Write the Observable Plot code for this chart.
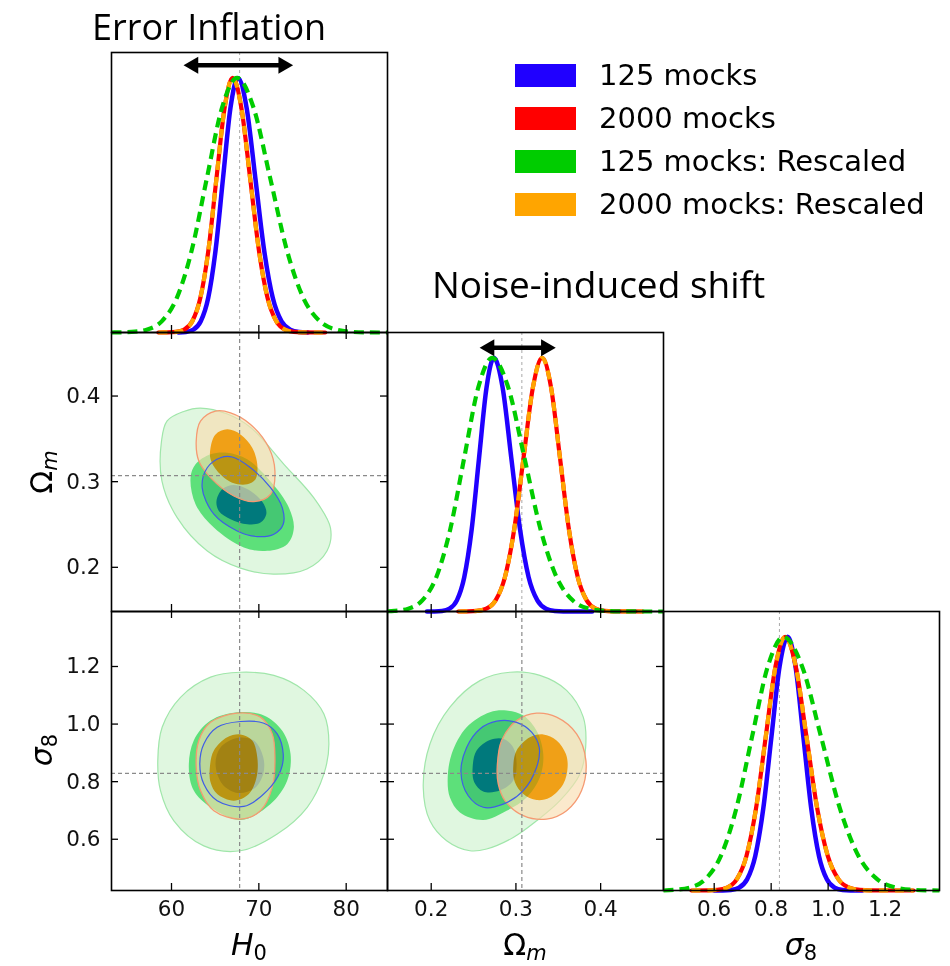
<!DOCTYPE html>
<html>
<head>
<meta charset="utf-8">
<script src="https://cdn.jsdelivr.net/npm/d3@7"></script>
<script src="https://cdn.jsdelivr.net/npm/@observablehq/plot@0.6"></script>
<style>
html,body{margin:0;padding:0;background:#fff;}
#wrap{position:relative;width:950px;height:966px;overflow:hidden;background:#fff;}
#wrap svg{position:absolute;}
</style>
</head>
<body>
<div id="wrap"></div>
<script>
// ---------------- data ----------------
const titleLeft = "Error Inflation";
const titleRight = "Noise-induced shift";
const legendLabels = ["125 mocks", "2000 mocks", "125 mocks: Rescaled", "2000 mocks: Rescaled"];

const h0Ticks = [60, 70, 80];
const omTicks = [0.2, 0.3, 0.4];
const s8Ticks = [0.6, 0.8, 1.0, 1.2];
const h0Domain = [53.13, 84.73];
const omDomain = [0.1484, 0.4742];
const s8Domain = [0.422, 1.391];
const densDomain = [0, 1.1];
const truthH0 = [67.8];
const truthOm = [0.307];
const truthS8 = [0.829];
const arrowH0 = [61.4, 73.9, 1.05];
const arrowOm = [0.2574, 0.3468, 1.04];

// 1D marginals [value, normalised density]
const h0Blue = [[60.8,0.0003],[61.65,0.0022],[62.5,0.0111],[63.35,0.0439],[64.2,0.1353],[65.05,0.3247],[65.9,0.6065],[66.75,0.8825],[67.6,1],[68.6,0.8825],[69.6,0.6065],[70.6,0.3247],[71.6,0.1353],[72.6,0.0439],[73.6,0.0111],[74.6,0.0022],[75.6,0.0003]];
const h0Red = [[58.5,0],[59.6,0.0003],[60.53,0.0022],[61.45,0.0111],[62.38,0.0439],[63.3,0.1353],[64.23,0.3247],[65.15,0.6065],[66.08,0.8825],[67.0,1],[68,0.8825],[69,0.6065],[70,0.3247],[71,0.1353],[72,0.0439],[73,0.0111],[74,0.0022],[75,0.0003],[77.6,0]];
const h0Orange = [[58.5,0],[59.6,0.0003],[60.53,0.0022],[61.45,0.0111],[62.38,0.0439],[63.3,0.1353],[64.23,0.3247],[65.15,0.6065],[66.08,0.8825],[67.0,1],[68,0.8825],[69,0.6065],[70,0.3247],[71,0.1353],[72,0.0439],[73,0.0111],[74,0.0022],[75,0.0003],[77.6,0]];
const h0Green = [[53.13,0],[53.7,0.0003],[55.43,0.0022],[57.15,0.0111],[58.88,0.0439],[60.6,0.1353],[62.33,0.3247],[64.05,0.6065],[65.78,0.8825],[67.5,1],[69.4,0.8825],[71.3,0.6065],[73.2,0.3247],[75.1,0.1353],[77.0,0.0439],[78.9,0.0111],[80.8,0.0022],[82.7,0.0003],[84.73,0]];

const omBlue = [[0.195,0],[0.204,0.0003],[0.2128,0.0022],[0.2215,0.0111],[0.2303,0.0439],[0.239,0.1353],[0.2478,0.3247],[0.2565,0.6065],[0.2653,0.8825],[0.274,1],[0.2843,0.8825],[0.2945,0.6065],[0.3048,0.3247],[0.315,0.1353],[0.3253,0.0439],[0.3355,0.0111],[0.3458,0.0022],[0.356,0.0003],[0.39,0]];
const omRed = [[0.232,0],[0.243,0.0003],[0.254,0.0022],[0.265,0.0111],[0.276,0.0439],[0.287,0.1353],[0.298,0.3247],[0.309,0.6065],[0.32,0.8825],[0.331,1],[0.3415,0.8825],[0.352,0.6065],[0.3625,0.3247],[0.373,0.1353],[0.3835,0.0439],[0.394,0.0111],[0.4045,0.0022],[0.415,0.0003],[0.45,0]];
const omOrange = [[0.232,0],[0.243,0.0003],[0.254,0.0022],[0.265,0.0111],[0.276,0.0439],[0.287,0.1353],[0.298,0.3247],[0.309,0.6065],[0.32,0.8825],[0.331,1],[0.3415,0.8825],[0.352,0.6065],[0.3625,0.3247],[0.373,0.1353],[0.3835,0.0439],[0.394,0.0111],[0.4045,0.0022],[0.415,0.0003],[0.45,0]];
const omGreen = [[0.1484,0.0009],[0.1565,0.0022],[0.173,0.0111],[0.1895,0.0439],[0.206,0.1353],[0.2225,0.3247],[0.239,0.6065],[0.2555,0.8825],[0.272,1],[0.291,0.8825],[0.31,0.6065],[0.329,0.3247],[0.348,0.1353],[0.367,0.0439],[0.386,0.0111],[0.405,0.0022],[0.424,0.0003],[0.4742,0]];

const s8Blue = [[0.6,0],[0.63,0.0003],[0.6585,0.0022],[0.687,0.0111],[0.7155,0.0439],[0.744,0.1353],[0.7725,0.3247],[0.801,0.6065],[0.8295,0.8825],[0.858,1],[0.8855,0.8825],[0.913,0.6065],[0.9405,0.3247],[0.968,0.1353],[0.9955,0.0439],[1.023,0.0111],[1.0505,0.0022],[1.078,0.0003],[1.12,0]];
const s8Red = [[0.52,0],[0.577,0.0003],[0.611,0.0022],[0.645,0.0111],[0.679,0.0439],[0.713,0.1353],[0.747,0.3247],[0.781,0.6065],[0.815,0.8825],[0.849,1],[0.8865,0.8825],[0.924,0.6065],[0.9615,0.3247],[0.999,0.1353],[1.0365,0.0439],[1.074,0.0111],[1.1115,0.0022],[1.149,0.0003],[1.3,0]];
const s8Orange = [[0.52,0],[0.577,0.0003],[0.611,0.0022],[0.645,0.0111],[0.679,0.0439],[0.713,0.1353],[0.747,0.3247],[0.781,0.6065],[0.815,0.8825],[0.849,1],[0.8865,0.8825],[0.924,0.6065],[0.9615,0.3247],[0.999,0.1353],[1.0365,0.0439],[1.074,0.0111],[1.1115,0.0022],[1.149,0.0003],[1.3,0]];
const s8Green = [[0.422,0],[0.458,0.0022],[0.513,0.0111],[0.568,0.0439],[0.623,0.1353],[0.678,0.3247],[0.733,0.6065],[0.788,0.8825],[0.843,1],[0.909,0.8825],[0.975,0.6065],[1.041,0.3247],[1.107,0.1353],[1.173,0.0439],[1.239,0.0111],[1.305,0.0022],[1.371,0.0003],[1.391,0]];

// 2D contours: H0 vs Omega_m
const g2_h0om = [[58.85,0.347],[59.5,0.371],[61.4,0.382],[63.3,0.386],[66.4,0.379],[69.1,0.363],[72.9,0.320],[76.3,0.281],[78.2,0.246],[77.8,0.219],[75.5,0.198],[71.7,0.192],[67.9,0.199],[64.1,0.219],[60.65,0.258],[58.9,0.301]];
const g1_h0om = [[62.18,0.3047],[62.75,0.3203],[64.47,0.3319],[66.38,0.3338],[68.67,0.3261],[70.96,0.3047],[73.25,0.2737],[74.01,0.2464],[73.25,0.2270],[70.96,0.2192],[68.28,0.2231],[64.85,0.2464],[62.75,0.2737]];
const b2_h0om = [[63.51,0.2930],[64.09,0.3163],[65.61,0.3280],[66.95,0.3288],[69.05,0.3163],[71.34,0.2930],[72.68,0.2697],[72.79,0.2503],[71.72,0.2387],[69.82,0.2359],[67.52,0.2425],[64.85,0.2620]];
const b1_h0om = [[65.15,0.2775],[65.81,0.2911],[67.14,0.2962],[69.05,0.2892],[70.58,0.2737],[70.85,0.2620],[70.19,0.2522],[68.67,0.2503],[66.76,0.2562],[65.42,0.2659]];
const o2_h0om = [[62.83,0.3474],[63.32,0.3707],[65.04,0.3824],[66.76,0.3804],[69.05,0.3669],[71.15,0.3396],[71.84,0.3125],[71.34,0.2853],[69.43,0.2767],[67.14,0.2833],[64.47,0.3047],[63.13,0.3241]];
const o1_h0om = [[64.47,0.3396],[65.04,0.3552],[66.38,0.3611],[67.90,0.3552],[69.24,0.3396],[69.82,0.3203],[69.62,0.3028],[68.67,0.2970],[66.95,0.2988],[65.23,0.3125],[64.47,0.3261]];

// H0 vs sigma_8
const g2_h0s8 = [[58.43,0.873],[58.93,0.989],[61.03,1.093],[64.47,1.163],[67.90,1.180],[71.72,1.169],[75.16,1.117],[77.45,1.035],[78.02,0.931],[77.45,0.827],[75.54,0.711],[72.10,0.618],[67.90,0.560],[63.70,0.577],[60.27,0.664],[58.74,0.769]];
const g1_h0s8 = [[61.98,0.850],[62.55,0.943],[64.47,1.012],[67.52,1.041],[70.58,1.030],[72.68,0.977],[73.63,0.896],[73.25,0.804],[71.34,0.722],[67.90,0.667],[64.47,0.711],[62.55,0.769]];
const b2_h0s8 = [[63.24,0.862],[63.70,0.931],[65.23,0.989],[67.90,1.009],[70.58,1.003],[72.10,0.966],[72.79,0.896],[72.49,0.838],[70.96,0.769],[68.28,0.714],[65.23,0.734],[63.70,0.792]];
const b1_h0s8 = [[65.04,0.862],[65.61,0.919],[67.52,0.952],[69.43,0.943],[70.50,0.885],[70.50,0.827],[69.43,0.775],[67.52,0.761],[65.81,0.792]];
const o2_h0s8 = [[62.83,0.850],[63.13,0.943],[64.47,1.006],[67.52,1.038],[70.19,1.024],[71.53,0.966],[71.84,0.885],[71.53,0.780],[70.19,0.699],[67.90,0.670],[64.85,0.699],[63.32,0.769]];
const o1_h0s8 = [[64.39,0.850],[64.85,0.908],[66.38,0.954],[67.90,0.964],[69.24,0.943],[69.82,0.885],[69.74,0.815],[68.86,0.757],[67.14,0.734],[65.23,0.757],[64.47,0.798]];

// Omega_m vs sigma_8
const g2_oms8 = [[0.1906,0.780],[0.1985,0.931],[0.2221,1.059],[0.2575,1.151],[0.2929,1.180],[0.3283,1.169],[0.3598,1.117],[0.3795,1.024],[0.3823,0.919],[0.3756,0.827],[0.3519,0.734],[0.3244,0.664],[0.2968,0.606],[0.2654,0.566],[0.2457,0.560],[0.2182,0.595],[0.1985,0.664]];
const g1_oms8 = [[0.2194,0.804],[0.2241,0.896],[0.2418,0.989],[0.2693,1.041],[0.2890,1.047],[0.3087,1.030],[0.3244,0.977],[0.3323,0.896],[0.3283,0.815],[0.3126,0.745],[0.2890,0.699],[0.2614,0.667],[0.2339,0.693],[0.2221,0.745]];
const b2_oms8 = [[0.2351,0.832],[0.2418,0.919],[0.2575,0.983],[0.2772,1.010],[0.3008,1.006],[0.3185,0.972],[0.3275,0.919],[0.3244,0.850],[0.3087,0.769],[0.2850,0.722],[0.2614,0.711],[0.2437,0.751]];
const b1_oms8 = [[0.2489,0.850],[0.2536,0.908],[0.2693,0.945],[0.2850,0.949],[0.2968,0.919],[0.3008,0.862],[0.2968,0.804],[0.2811,0.769],[0.2614,0.766],[0.2508,0.798]];
const o2_oms8 = [[0.2779,0.850],[0.2831,0.943],[0.3008,1.012],[0.3244,1.038],[0.3480,1.024],[0.3716,0.966],[0.3826,0.873],[0.3775,0.769],[0.3598,0.699],[0.3362,0.670],[0.3087,0.682],[0.2870,0.734],[0.2791,0.792]];
const o1_oms8 = [[0.2968,0.850],[0.3008,0.908],[0.3165,0.954],[0.3323,0.964],[0.3480,0.943],[0.3590,0.896],[0.3610,0.850],[0.3559,0.792],[0.3401,0.745],[0.3244,0.736],[0.3087,0.757],[0.2988,0.798]];

// ---------------- drawing ----------------
const BLUE = "#2000ff", RED = "#ff0000", GREEN = "#00cc00", ORANGE = "#ffa500";
const CORE = "#ffb21e";
const legendColors = [BLUE, RED, GREEN, ORANGE];
const wrap = document.getElementById("wrap");
const colLeft = [111, 387, 663];
const rowTop = [52, 332, 611];
const W = 276;
const X = d => d[0], Y = d => d[1];
const fmt1 = d3.format(".1f");

// overlay for titles, legend, axis labels
const ov = d3.select(wrap).append("svg").attr("width", 950).attr("height", 966)
  .style("left", "0px").style("top", "0px");
ov.append("text").attr("x", 92).attr("y", 40).attr("font-family", "Open Sans")
  .attr("font-size", 36).attr("fill", "#000").text(titleLeft);
ov.append("text").attr("x", 432).attr("y", 298).attr("font-family", "Open Sans")
  .attr("font-size", 37).attr("fill", "#000").text(titleRight);
legendLabels.forEach((lab, i) => {
  ov.append("rect").attr("x", 515).attr("y", 64 + i * 43).attr("width", 61).attr("height", 23)
    .attr("fill", legendColors[i]);
  ov.append("text").attr("x", 599).attr("y", 85 + i * 43).attr("font-family", "DejaVu Sans")
    .attr("font-size", 29).attr("fill", "#000").text(lab);
});
function mathLabel(g, main, mainItalic, sub, subItalic) {
  const t = g.append("text").attr("text-anchor", "middle").attr("font-family", "DejaVu Sans")
    .attr("font-size", 30).attr("fill", "#000");
  t.append("tspan").attr("font-style", mainItalic ? "italic" : "normal").text(main);
  t.append("tspan").attr("font-style", subItalic ? "italic" : "normal").attr("font-size", 21)
    .attr("dy", 5).text(sub);
  return t;
}
mathLabel(ov.append("g").attr("transform", "translate(249,955)"), "H", true, "0", false);
mathLabel(ov.append("g").attr("transform", "translate(525,955)"), "Ω", false, "m", true);
mathLabel(ov.append("g").attr("transform", "translate(801,955)"), "σ", true, "8", false);
mathLabel(ov.append("g").attr("transform", "translate(52,472) rotate(-90)"), "Ω", false, "m", true);
mathLabel(ov.append("g").attr("transform", "translate(52,750) rotate(-90)"), "σ", true, "8", false);

function tickMarks(h, {bottom, top, left, right}) {
  const m = [];
  const s = {stroke: "black", strokeWidth: 1.3};
  if (bottom) m.push(Plot.tickX(bottom, {x: d => d, insetTop: h - 7, ...s}));
  if (top) m.push(Plot.tickX(top, {x: d => d, insetBottom: h - 7, ...s}));
  if (left) m.push(Plot.tickY(left, {y: d => d, insetRight: W - 7, ...s}));
  if (right) m.push(Plot.tickY(right, {y: d => d, insetLeft: W - 7, ...s}));
  return m;
}

function curveMarks(blue, red, orange, green) {
  const c = {x: X, y: Y, curve: "monotone-x"};
  return [
    Plot.line(blue, {...c, stroke: BLUE, strokeWidth: 4.5}),
    Plot.line(red, {...c, stroke: RED, strokeWidth: 4.2}),
    Plot.line(orange, {...c, stroke: ORANGE, strokeWidth: 4.2, strokeDasharray: "9,7", strokeLinecap: "butt"}),
    Plot.line(green, {...c, stroke: GREEN, strokeWidth: 4.2, strokeDasharray: "10,6", strokeLinecap: "butt"})
  ];
}

function contourMarks(g2, g1, b2, b1, o2, o1) {
  const c = {x: X, y: Y, curve: "catmull-rom-closed"};
  return [
    Plot.line(g2, {...c, fill: "#00c000", fillOpacity: 0.12, stroke: "none"}),
    Plot.line(g2, {...c, stroke: "#a0e6aa", strokeWidth: 1.2}),
    Plot.line(g1, {...c, fill: "#5de07a", stroke: "none"}),
    Plot.line(b2, {...c, fill: "#008060", fillOpacity: 0.25, stroke: "none"}),
    Plot.line(b1, {...c, fill: "#00797c", stroke: "none"}),
    Plot.line(o2, {...c, fill: "#f9ddb1", fillOpacity: 0.65, stroke: "none"}),
    Plot.line(o1, {...c, fill: CORE, stroke: "none"}),
    Plot.line(o2, {...c, stroke: "#f59a72", strokeWidth: 1.3}),
    Plot.line(b2, {...c, stroke: "#3f5de6", strokeWidth: 1.2})
  ];
}

function arrowMarks(a) {
  return [
    Plot.arrow([a], {x1: d => d[0], x2: d => d[1], y1: d => d[2], y2: d => d[2],
      headLength: 0, insetStart: 8, insetEnd: 8, stroke: "black", strokeWidth: 4.5}),
    Plot.dot([a], {x: d => d[1], y: d => d[2], symbol: "triangle", r: 6.3, rotate: 90, dx: -9.6, fill: "black", stroke: "none"}),
    Plot.dot([a], {x: d => d[0], y: d => d[2], symbol: "triangle", r: 6.3, rotate: -90, dx: 9.6, fill: "black", stroke: "none"})
  ];
}

const refStyle2D = {stroke: "#8a8a8a", strokeWidth: 1.2, strokeDasharray: "4,3"};
const refStyle1D = {stroke: "#a8a8a8", strokeWidth: 1, strokeDasharray: "3,3"};

function mkPlot(col, row, xDomain, yDomain, marks) {
  const h = row === 0 ? 280 : 279;
  const svg = Plot.plot({
    width: W, height: h, margin: 0,
    x: {domain: xDomain, axis: null},
    y: {domain: yDomain, axis: null},
    style: {fontFamily: "DejaVu Sans", fontSize: "21.5px", color: "#111", background: "transparent", overflow: "visible"},
    marks: [...marks, Plot.frame({stroke: "black", strokeWidth: 1.6})]
  });
  svg.style.left = colLeft[col] + "px";
  svg.style.top = rowTop[row] + "px";
  svg.querySelectorAll(`g[fill="${CORE}"]`).forEach(g => g.style.mixBlendMode = "multiply");
  wrap.appendChild(svg);
}

// (1,1) H0 marginal
mkPlot(0, 0, h0Domain, densDomain, [
  Plot.ruleX(truthH0, refStyle1D),
  ...curveMarks(h0Blue, h0Red, h0Orange, h0Green),
  ...arrowMarks(arrowH0),
  ...tickMarks(280, {bottom: h0Ticks})
]);
// (2,1) H0 vs Om
mkPlot(0, 1, h0Domain, omDomain, [
  ...contourMarks(g2_h0om, g1_h0om, b2_h0om, b1_h0om, o2_h0om, o1_h0om),
  Plot.ruleX(truthH0, refStyle2D), Plot.ruleY(truthOm, refStyle2D),
  ...tickMarks(279, {bottom: h0Ticks, top: h0Ticks, left: omTicks, right: omTicks}),
  Plot.axisY(omTicks, {anchor: "left", tickSize: 0, tickPadding: 11, tickFormat: fmt1, label: null})
]);
// (2,2) Om marginal
mkPlot(1, 1, omDomain, densDomain, [
  Plot.ruleX(truthOm, refStyle1D),
  ...curveMarks(omBlue, omRed, omOrange, omGreen),
  ...arrowMarks(arrowOm),
  ...tickMarks(279, {bottom: omTicks})
]);
// (3,1) H0 vs s8
mkPlot(0, 2, h0Domain, s8Domain, [
  ...contourMarks(g2_h0s8, g1_h0s8, b2_h0s8, b1_h0s8, o2_h0s8, o1_h0s8),
  Plot.ruleX(truthH0, refStyle2D), Plot.ruleY(truthS8, refStyle2D),
  ...tickMarks(279, {bottom: h0Ticks, top: h0Ticks, left: s8Ticks, right: s8Ticks}),
  Plot.axisY(s8Ticks, {anchor: "left", tickSize: 0, tickPadding: 11, tickFormat: fmt1, label: null}),
  Plot.axisX(h0Ticks, {anchor: "bottom", tickSize: 0, tickPadding: 10, tickFormat: d3.format("d"), label: null})
]);
// (3,2) Om vs s8
mkPlot(1, 2, omDomain, s8Domain, [
  ...contourMarks(g2_oms8, g1_oms8, b2_oms8, b1_oms8, o2_oms8, o1_oms8),
  Plot.ruleX(truthOm, refStyle2D), Plot.ruleY(truthS8, refStyle2D),
  ...tickMarks(279, {bottom: omTicks, top: omTicks, left: s8Ticks, right: s8Ticks}),
  Plot.axisX(omTicks, {anchor: "bottom", tickSize: 0, tickPadding: 10, tickFormat: fmt1, label: null})
]);
// (3,3) s8 marginal
mkPlot(2, 2, s8Domain, densDomain, [
  Plot.ruleX(truthS8, refStyle1D),
  ...curveMarks(s8Blue, s8Red, s8Orange, s8Green),
  ...tickMarks(279, {bottom: s8Ticks}),
  Plot.axisX(s8Ticks, {anchor: "bottom", tickSize: 0, tickPadding: 10, tickFormat: fmt1, label: null})
]);
</script>
</body>
</html>
